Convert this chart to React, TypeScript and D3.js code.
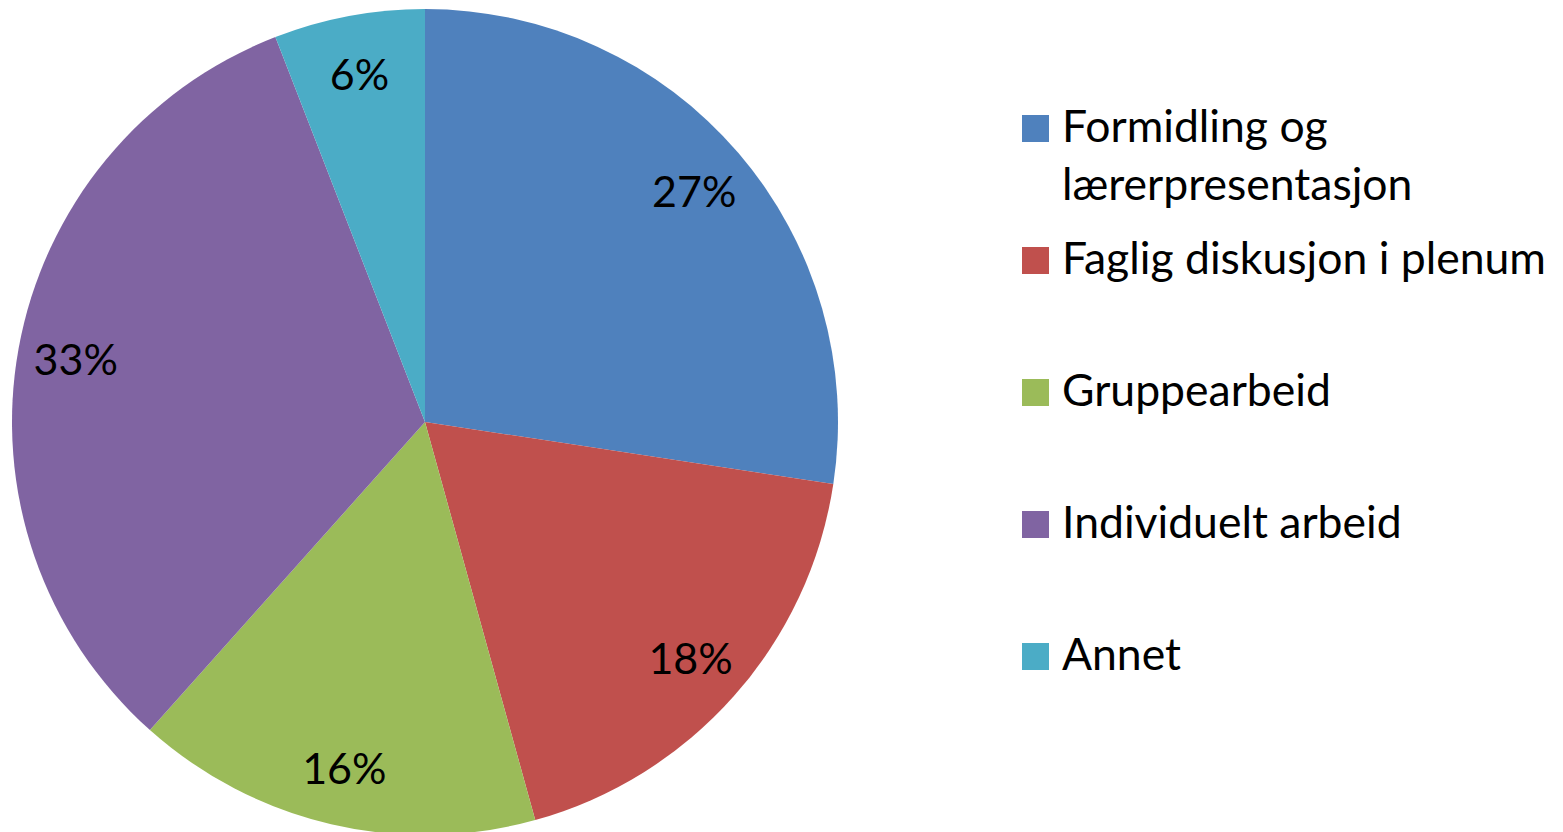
import React, { useEffect, useRef } from "react";
import * as d3 from "d3";

const categories = [
  "Formidling og lærerpresentasjon",
  "Faglig diskusjon i plenum",
  "Gruppearbeid",
  "Individuelt arbeid",
  "Annet",
];
const legendLines = [
  ["Formidling og", "lærerpresentasjon"],
  ["Faglig diskusjon i plenum"],
  ["Gruppearbeid"],
  ["Individuelt arbeid"],
  ["Annet"],
];
const values = [27.4, 18.3, 15.9, 32.5, 5.9];
const valueLabels = ["27%", "18%", "16%", "33%", "6%"];
const colors = ["#4F81BD", "#C0504D", "#9BBB59", "#8064A2", "#4BACC6"];

const W = 1563;
const H = 832;
const FONT = "Lato, 'Open Sans', sans-serif";

export default function App() {
  const ref = useRef<SVGSVGElement>(null);
  useEffect(() => {
    const svg = d3.select(ref.current);
    svg.selectAll("*").remove();
    const cx = 425, cy = 422, R = 413;
    const pie = d3.pie<number>().sort(null).value((d) => d);
    const arcs = pie(values);
    const arc = d3.arc<d3.PieArcDatum<number>>().innerRadius(0).outerRadius(R);
    const labelArc = d3.arc<d3.PieArcDatum<number>>().innerRadius(355).outerRadius(355);
    const g = svg.append("g").attr("transform", `translate(${cx},${cy})`);
    g.selectAll("path.slice")
      .data(arcs)
      .join("path")
      .attr("class", "slice")
      .attr("d", arc as any)
      .attr("fill", (_, i) => colors[i]);
    g.selectAll("text.lbl")
      .data(arcs)
      .join("text")
      .attr("class", "lbl")
      .attr("transform", (d) => `translate(${labelArc.centroid(d)})`)
      .attr("text-anchor", "middle")
      .attr("dominant-baseline", "central")
      .attr("font-family", FONT)
      .attr("font-size", 43)
      .attr("fill", "#000")
      .text((_, i) => valueLabels[i]);

    const leg = svg.append("g");
    const y = d3.scaleLinear().domain([0, 4]).range([142, 670]);
    categories.forEach((c, i) => {
      const base = y(i);
      leg.append("rect")
        .attr("x", 1022).attr("y", base - 27).attr("width", 27).attr("height", 27)
        .attr("fill", colors[i]);
      const t = leg.append("text")
        .attr("x", 1062).attr("y", base)
        .attr("font-family", FONT).attr("font-size", 44.5).attr("fill", "#000");
      legendLines[i].forEach((line, j) => {
        t.append("tspan").attr("x", 1062).attr("y", base + j * 58).text(line);
      });
    });
  }, []);
  return (
    <svg ref={ref} width={W} height={H} style={{ position: "absolute", left: 0, top: 0, background: "#fff" }} />
  );
}
